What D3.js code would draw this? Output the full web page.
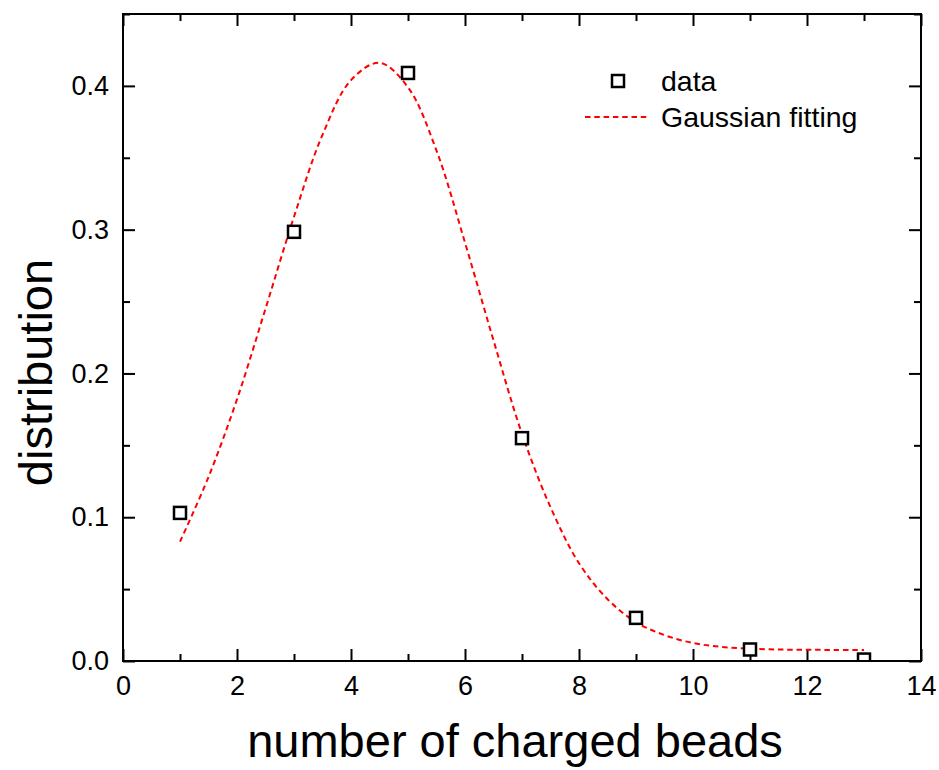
<!DOCTYPE html>
<html>
<head>
<meta charset="utf-8">
<script src="https://cdn.jsdelivr.net/npm/d3@7"></script>
<style>
  html, body { margin: 0; padding: 0; background: #fff; }
  svg { display: block; font-family: Arial, "Liberation Sans", sans-serif; }
</style>
</head>
<body>
<svg id="chart" width="939" height="770"></svg>
<script>
// Measured distribution of charged beads
const beadCounts = [1, 3, 5, 7, 9, 11, 13];
const distribution = [0.103, 0.2985, 0.409, 0.155, 0.030, 0.008, 0.001];

// Gaussian fit curve, sampled every half bead
const fitX = [1.0, 1.5, 2.0, 2.5, 3.0, 3.5, 4.0, 4.5, 5.0, 5.5, 6.0, 6.5, 7.0,
              7.5, 8.0, 8.5, 9.0, 9.5, 10.0, 10.5, 11.0, 11.5, 12.0, 12.5, 13.0];
const fitY = [0.083, 0.128, 0.182, 0.245, 0.309, 0.366, 0.404, 0.416, 0.399, 0.355, 0.291, 0.223, 0.158,
              0.107, 0.068, 0.043, 0.027, 0.018, 0.0125, 0.0098, 0.0086, 0.0080, 0.0078, 0.0077, 0.0077];

// Axis ticks
const xMajorTicks = [0, 2, 4, 6, 8, 10, 12, 14];
const xMinorTicks = [1, 3, 5, 7, 9, 11, 13];
const yMajorTicks = [0.0, 0.1, 0.2, 0.3, 0.4];
const yMinorTicks = [0.05, 0.15, 0.25, 0.35, 0.45];

const legendLabels = ["data", "Gaussian fitting"];
const xTitle = "number of charged beads";
const yTitle = "distribution";

const svg = d3.select("#chart");
const plotLeft = 123, plotRight = 921, plotTop = 14, plotBottom = 661;

const x = d3.scaleLinear().domain([0, 14]).range([plotLeft, plotRight]);
const y = d3.scaleLinear().domain([0, 0.45]).range([plotBottom, plotTop]);

const majorLen = 12, minorLen = 7;
const tickFont = 27;

// Clip region for marks inside the frame
svg.append("defs").append("clipPath").attr("id", "plot-clip")
  .append("rect")
  .attr("x", plotLeft).attr("y", plotTop)
  .attr("width", plotRight - plotLeft).attr("height", plotBottom - plotTop);

function styleAxis(g, fontSize) {
  g.select(".domain").remove();
  g.selectAll(".tick line").attr("stroke", "#000").attr("stroke-width", 2);
  g.selectAll(".tick text")
    .attr("fill", "#000")
    .style("font-size", fontSize + "px")
    .style("font-family", "Arial, 'Liberation Sans', sans-serif");
}

// Bottom axis (labelled) and minor ticks
svg.append("g")
  .attr("transform", `translate(0,${plotBottom})`)
  .call(d3.axisBottom(x).tickValues(xMajorTicks).tickSizeInner(-majorLen).tickSizeOuter(0)
    .tickPadding(15).tickFormat(d3.format("d")))
  .call(g => styleAxis(g, tickFont));
svg.append("g")
  .attr("transform", `translate(0,${plotBottom})`)
  .call(d3.axisBottom(x).tickValues(xMinorTicks).tickSizeInner(-minorLen).tickSizeOuter(0).tickFormat(""))
  .call(g => styleAxis(g, tickFont));

// Top axis mirrors the ticks
svg.append("g")
  .attr("transform", `translate(0,${plotTop})`)
  .call(d3.axisTop(x).tickValues(xMajorTicks).tickSizeInner(-majorLen).tickSizeOuter(0).tickFormat(""))
  .call(g => styleAxis(g, tickFont));
svg.append("g")
  .attr("transform", `translate(0,${plotTop})`)
  .call(d3.axisTop(x).tickValues(xMinorTicks).tickSizeInner(-minorLen).tickSizeOuter(0).tickFormat(""))
  .call(g => styleAxis(g, tickFont));

// Left axis (labelled)
svg.append("g")
  .attr("transform", `translate(${plotLeft},0)`)
  .call(d3.axisLeft(y).tickValues(yMajorTicks).tickSizeInner(-majorLen).tickSizeOuter(0)
    .tickPadding(14).tickFormat(d3.format(".1f")))
  .call(g => styleAxis(g, tickFont));
svg.append("g")
  .attr("transform", `translate(${plotLeft},0)`)
  .call(d3.axisLeft(y).tickValues(yMinorTicks).tickSizeInner(-minorLen).tickSizeOuter(0).tickFormat(""))
  .call(g => styleAxis(g, tickFont));

// Right axis mirrors the ticks
svg.append("g")
  .attr("transform", `translate(${plotRight},0)`)
  .call(d3.axisRight(y).tickValues(yMajorTicks).tickSizeInner(-majorLen).tickSizeOuter(0).tickFormat(""))
  .call(g => styleAxis(g, tickFont));
svg.append("g")
  .attr("transform", `translate(${plotRight},0)`)
  .call(d3.axisRight(y).tickValues(yMinorTicks).tickSizeInner(-minorLen).tickSizeOuter(0).tickFormat(""))
  .call(g => styleAxis(g, tickFont));

// Fitted Gaussian curve
const fitPoints = fitX.map((v, i) => [v, fitY[i]]);
const line = d3.line().x(d => x(d[0])).y(d => y(d[1])).curve(d3.curveCatmullRom.alpha(0.5));
svg.append("path")
  .datum(fitPoints)
  .attr("clip-path", "url(#plot-clip)")
  .attr("d", line)
  .attr("fill", "none")
  .attr("stroke", "#ff0000")
  .attr("stroke-width", 2)
  .attr("stroke-dasharray", "5.5,3.8");

// Data markers: open squares
const sq = 12;
svg.append("g").attr("clip-path", "url(#plot-clip)")
  .selectAll("rect")
  .data(beadCounts.map((v, i) => [v, distribution[i]]))
  .join("rect")
  .attr("x", d => x(d[0]) - sq / 2)
  .attr("y", d => y(d[1]) - sq / 2)
  .attr("width", sq).attr("height", sq)
  .attr("fill", "#fff")
  .attr("stroke", "#000")
  .attr("stroke-width", 2.5);

// Frame
svg.append("rect")
  .attr("x", plotLeft).attr("y", plotTop)
  .attr("width", plotRight - plotLeft).attr("height", plotBottom - plotTop)
  .attr("fill", "none").attr("stroke", "#000").attr("stroke-width", 2);

// Legend
const legend = svg.append("g");
legend.append("rect")
  .attr("x", 618 - sq / 2).attr("y", 81 - sq / 2)
  .attr("width", sq).attr("height", sq)
  .attr("fill", "#fff").attr("stroke", "#000").attr("stroke-width", 2.5);
legend.append("line")
  .attr("x1", 585).attr("x2", 650).attr("y1", 117).attr("y2", 117)
  .attr("stroke", "#ff0000").attr("stroke-width", 2).attr("stroke-dasharray", "5.5,3.8");
legend.selectAll("text")
  .data(legendLabels)
  .join("text")
  .attr("x", 661)
  .attr("y", (d, i) => 81 + i * 36)
  .attr("dy", "0.35em")
  .style("font-size", "28.5px")
  .attr("fill", "#000")
  .text(d => d);

// Axis titles
svg.append("text")
  .attr("x", (plotLeft + plotRight) / 2 - 7)
  .attr("y", 757)
  .attr("text-anchor", "middle")
  .style("font-size", "47px")
  .attr("fill", "#000")
  .text(xTitle);
svg.append("text")
  .attr("transform", `translate(52,${(plotTop + plotBottom) / 2 + 35}) rotate(-90)`)
  .attr("text-anchor", "middle")
  .style("font-size", "47px")
  .attr("fill", "#000")
  .text(yTitle);
</script>
</body>
</html>
